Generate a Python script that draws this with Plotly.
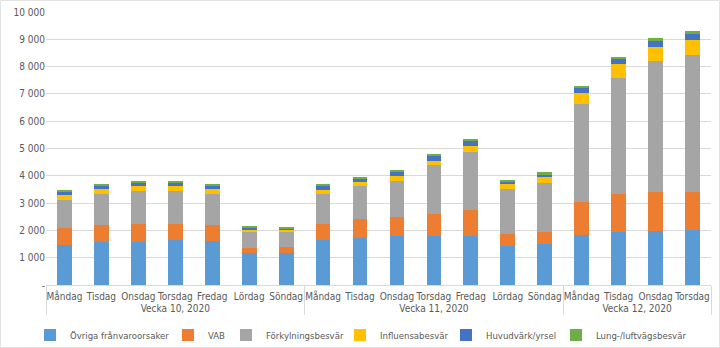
import plotly.graph_objects as go

weeks = ["Vecka 10, 2020"] * 7 + ["Vecka 11, 2020"] * 7 + ["Vecka 12, 2020"] * 4
days = ["Måndag", "Tisdag", "Onsdag", "Torsdag", "Fredag", "Lördag", "Söndag",
        "Måndag", "Tisdag", "Onsdag", "Torsdag", "Fredag", "Lördag", "Söndag",
        "Måndag", "Tisdag", "Onsdag", "Torsdag"]

ovriga = [1460, 1580, 1590, 1640, 1620, 1180, 1180, 1640, 1730, 1780, 1810, 1810, 1430, 1485, 1825, 1935, 1980, 2005]
vab = [610, 610, 650, 600, 580, 170, 220, 600, 680, 715, 790, 950, 450, 440, 1215, 1385, 1410, 1400]
forkyl = [1030, 1140, 1200, 1200, 1150, 600, 545, 1080, 1200, 1300, 1780, 2130, 1640, 1810, 3580, 4280, 4820, 5025]
influensa = [210, 200, 180, 170, 180, 85, 85, 170, 170, 195, 180, 220, 180, 220, 400, 490, 520, 535]
huvudvark = [130, 130, 150, 150, 130, 60, 50, 145, 130, 160, 170, 180, 85, 100, 180, 180, 210, 240]
lung = [35, 30, 30, 30, 40, 30, 40, 35, 60, 35, 70, 75, 75, 70, 85, 100, 120, 110]

names = ["Övriga frånvaroorsaker", "VAB", "Förkylningsbesvär", "Influensabesvär",
         "Huvudvärk/yrsel", "Lung-/luftvägsbesvär"]
values = [ovriga, vab, forkyl, influensa, huvudvark, lung]
colors = ["#5B9BD5", "#ED7D31", "#A5A5A5", "#FFC000", "#4472C4", "#70AD47"]
legend_left_px = [30, 168, 226, 340, 446, 556]

tick_vals = [0, 1000, 2000, 3000, 4000, 5000, 6000, 7000, 8000, 9000, 10000]
tick_text = ["-", "1 000", "2 000", "3 000", "4 000", "5 000", "6 000", "7 000", "8 000", "9 000", "10 000"]

FONT = "DejaVu Sans Condensed, Lato, sans-serif"
L, R, T, B = 46, 9, 12, 63
W, H = 720, 348
pw, ph = W - L - R, H - T - B

fig = go.Figure()
legends = {}
for i, (name, vals, color) in enumerate(zip(names, values, colors)):
    key = "legend" if i == 0 else f"legend{i + 1}"
    fig.add_trace(go.Bar(x=[weeks, days], y=vals, name=name, marker_color=color,
                         marker_line_width=0, legend=key))
    legends[key] = dict(orientation="h", x=(legend_left_px[i] - L) / pw, xanchor="left",
                        y=(285 - 335) / ph, yanchor="middle",
                        font=dict(family=FONT, size=9.5, color="#595959"),
                        itemwidth=30, bgcolor="rgba(0,0,0,0)")

fig.update_layout(
    barmode="stack",
    bargap=0.6,
    width=W, height=H,
    margin=dict(l=L, r=R, t=T, b=B, autoexpand=False),
    paper_bgcolor="white", plot_bgcolor="white",
    font=dict(family=FONT, size=10, color="#595959"),
    showlegend=True,
    **legends,
)
fig.update_yaxes(range=[0, 10000], tickvals=tick_vals, ticktext=tick_text,
                 showgrid=True, gridcolor="#D9D9D9", gridwidth=1, zeroline=False,
                 ticks="", showline=False, tickfont=dict(family=FONT, size=10, color="#595959"),
                 automargin=False)
fig.update_xaxes(type="multicategory", showline=True, linecolor="#D9D9D9", linewidth=1,
                 dividercolor="#D9D9D9", dividerwidth=1, showdividers=True,
                 tickfont=dict(family=FONT, size=10, color="#595959"),
                 ticks="", tickangle=0, automargin=False, ticklabelstandoff=2)
fig.add_shape(type="rect", xref="paper", yref="paper",
              x0=(-L + 0.5) / pw, x1=(W - L - 0.5) / pw,
              y0=-(B - 0.5) / ph, y1=1 + (T - 0.5) / ph,
              line=dict(color="#E3E3E3", width=1), layer="below")

fig.write_html("out.html")
